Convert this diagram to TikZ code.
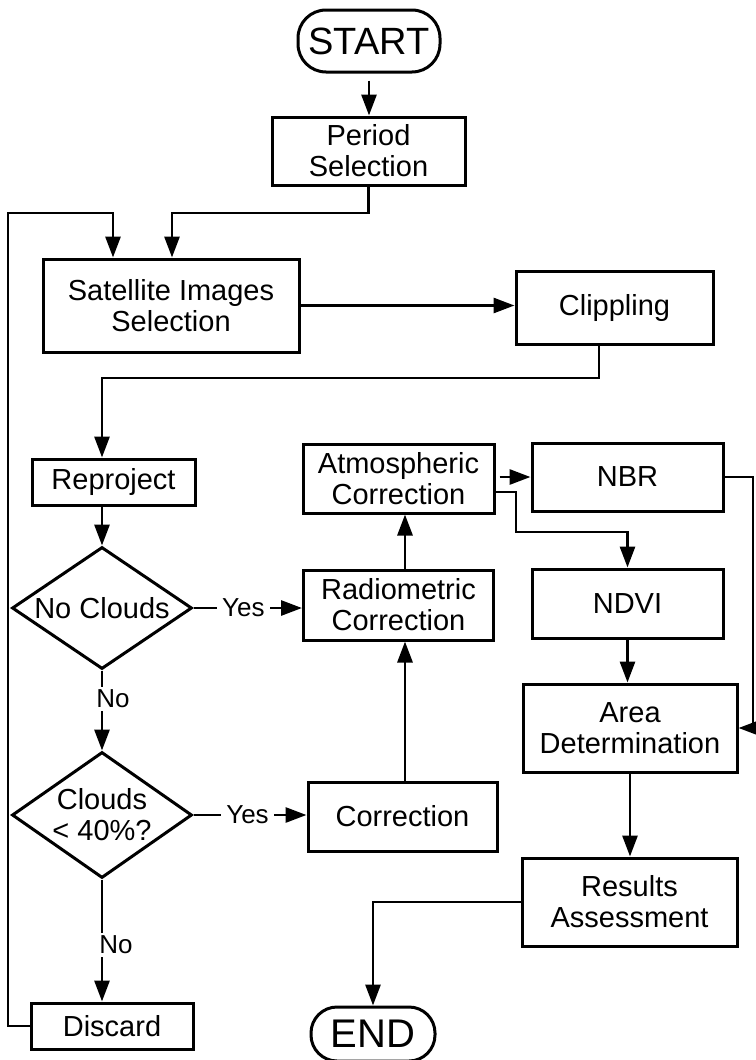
\documentclass[tikz,border=0pt]{standalone}
\usepackage{fontspec}
\setmainfont{Liberation Sans}
\usetikzlibrary{arrows.meta,shapes.geometric,calc}
\begin{document}
\begin{tikzpicture}[x=1pt,y=-1pt,
  box/.style={draw,line width=3pt,align=center,font=\fontsize{29}{31}\selectfont,inner sep=0pt},
  term/.style={draw,line width=3pt,rounded corners=28pt,inner sep=0pt},
  dec/.style={draw,diamond,line width=3pt,align=center,font=\fontsize{29}{31}\selectfont,inner sep=0pt},
  conn/.style={line width=2.9pt},
  arr/.style={conn,-{Triangle[length=21pt,width=15pt]}},
  lbl/.style={fill=white,font=\fontsize{26}{28}\selectfont,inner xsep=5pt,inner ysep=3pt}]
\useasboundingbox (0,0) rectangle (755,1060);

% nodes
\node[term,minimum width=142pt,minimum height=62pt,font=\fontsize{38}{40}\selectfont] (start) at (369,41) {START};
\node[box,minimum width=193pt,minimum height=68pt] (period) at (368.5,151) {Period\\Selection};
\node[box,minimum width=256pt,minimum height=93pt] (sat) at (171,305.5) {Satellite Images\\Selection};
\node[box,minimum width=197pt,minimum height=73pt] (clip) at (614.5,307.5) {Clippling};
\node[box,minimum width=163pt,minimum height=46pt] (reproj) at (113.5,482) {Reproject};
\node[dec,minimum width=180pt,minimum height=122pt,shape aspect=1.48] (d1) at (102,608) {No Clouds};
\node[dec,minimum width=180pt,minimum height=126pt,shape aspect=1.43] (d2) at (102,815) {Clouds\\< 40\%?};
\node[box,minimum width=162pt,minimum height=46pt] (discard) at (112,1026) {Discard};
\node[box,minimum width=190pt,minimum height=70pt] (rad) at (398.5,605) {Radiometric\\Correction};
\node[box,minimum width=191pt,minimum height=69pt] (atm) at (398.5,478.5) {Atmospheric\\Correction};
\node[box,minimum width=189pt,minimum height=69pt] (corr) at (402.5,816.5) {Correction};
\node[box,minimum width=191pt,minimum height=68pt] (nbr) at (627.5,477) {NBR};
\node[box,minimum width=191pt,minimum height=69pt] (ndvi) at (627.5,603.5) {NDVI};
\node[box,minimum width=214pt,minimum height=88pt] (area) at (630,728) {Area\\Determination};
\node[box,minimum width=215pt,minimum height=88pt] (res) at (629.5,902) {Results\\Assessment};
\node[term,minimum width=124pt,minimum height=54pt,rounded corners=26pt,font=\fontsize{40}{42}\selectfont] (end) at (373,1034) {END};

% helper coordinates
\coordinate (j1) at (172,213);
\coordinate (j2) at (8,213);
\coordinate (j3) at (113,213);
\coordinate (j4) at (599,378);
\coordinate (j5) at (516,532);
\coordinate (j6) at (753,0);
\coordinate (vx) at (405,0);

% connectors
\draw[arr,shorten <=7pt] (start.south) -- (start.south |- period.north);
\draw[arr] (period.south) |- (j1) -- (j1 |- sat.north);
\draw[arr] (discard.west) -| (j2) -| (j3 |- sat.north);
\draw[arr] (sat.east) -- (sat.east -| clip.west);
\draw[arr] (j4 |- clip.south) -- (j4) -| (d1.north |- reproj.north);
\draw[arr] (d1.north |- reproj.south) -- (d1.north);
\draw[arr] (d1.east) -- node[lbl,pos=0.46] (yes1) {Yes} (d1.east -| rad.west);
\draw[arr] (d1.south) -- (d2.north);
\node[lbl] (no1) at (113,699) {No};
\draw[arr] (d2.east) -- node[lbl,pos=0.478] (yes2) {Yes} (d2.east -| corr.west);
\draw[arr] (d2.south) -- (d2.south |- discard.north);
\node[lbl] (no2) at (116,945) {No};
\draw[arr] (vx |- corr.north) -- (vx |- rad.south);
\draw[arr] (vx |- rad.north) -- (vx |- atm.south);
\draw[arr,shorten <=4pt] (atm.east |- nbr.west) -- (nbr.west);
\draw[arr] ([yshift=-13.5pt]atm.east) -| (j5) -| (ndvi.north);
\draw[arr] (nbr.east) -| (j6 |- area.east) -- (area.east);
\draw[arr] (ndvi.south) -- (ndvi.south |- area.north);
\draw[arr] (area.south) -- (area.south |- res.north);
\draw[arr] (res.west) -| (end.north);
\end{tikzpicture}
\end{document}
